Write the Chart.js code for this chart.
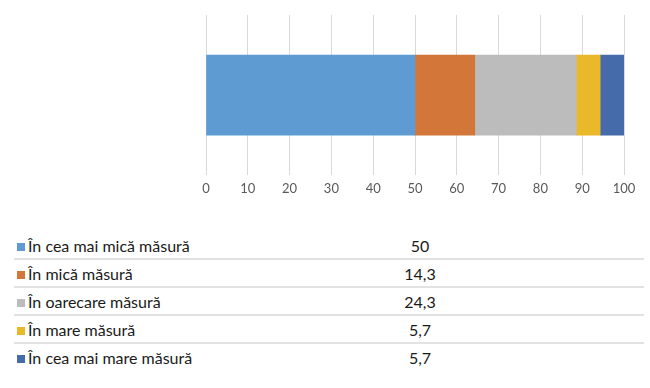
<!DOCTYPE html>
<html>
<head>
  <title>Stacked bar with data table</title>
  <script src="https://cdn.jsdelivr.net/npm/chart.js@4.4.0/dist/chart.umd.min.js"></script>
  <style>
    body { margin: 0; background: #fff; font-family: Lato, "Open Sans", sans-serif; }
    .wrap { position: relative; width: 650px; height: 388px; }
    .chart-box { position: absolute; left: 0; top: 0; width: 650px; height: 211px; }
    #legend-table { position: absolute; left: 14px; top: 232px; width: 630px; border-collapse: collapse; }
    #legend-table td { height: 26px; padding: 0; font-size: 16px; color: #1a1a1a; border-bottom: 2px solid #e2e2e2; }
    #legend-table tr:last-child td { border-bottom: none; }
    #legend-table td.lbl { width: 350px; white-space: nowrap; }
    #legend-table td.val { width: 112px; text-align: center; }
    .sq { display: inline-block; width: 8px; height: 8px; margin: 0 3px 0 3px; vertical-align: 1px; }
  </style>
</head>
<body>
  <div class="wrap">
    <div class="chart-box"><canvas id="chart"></canvas></div>
    <table id="legend-table"></table>
  </div>

  <script>
    // values
    var categories = ["În cea mai mică măsură", "În mică măsură", "În oarecare măsură", "În mare măsură", "În cea mai mare măsură"];
    var values = [50, 14.3, 24.3, 5.7, 5.7];
    var colors = ["#5e9bd2", "#d3763a", "#bcbcbc", "#e9b92a", "#456baa"];

    var datasets = categories.map(function(name, i) {
      return {
        label: name,
        data: [values[i]],
        backgroundColor: colors[i],
        borderWidth: 0,
        barThickness: 80
      };
    });

    var ctx = document.getElementById("chart").getContext("2d");
    var chart = new Chart(ctx, {
      type: "bar",
      data: { labels: [""], datasets: datasets },
      options: {
        indexAxis: "y",
        responsive: true,
        maintainAspectRatio: false,
        animation: false,
        layout: { padding: { left: 206, right: 26, top: 15, bottom: 8 } },
        plugins: { legend: { display: false }, tooltip: { enabled: false } },
        scales: {
          x: {
            stacked: true,
            min: 0,
            max: 100,
            ticks: { stepSize: 10, color: "#595959", padding: 6, font: { family: "Lato", size: 13 } },
            grid: { color: "#d9d9d9", lineWidth: 1, drawTicks: false },
            border: { display: false }
          },
          y: {
            stacked: true,
            display: false
          }
        }
      }
    });

    // data table under the chart
    var table = document.getElementById("legend-table");
    categories.forEach(function(name, i) {
      var tr = document.createElement("tr");
      var lbl = document.createElement("td");
      lbl.className = "lbl";
      lbl.innerHTML = '<span class="sq" style="background:' + colors[i] + '"></span>' + name;
      var val = document.createElement("td");
      val.className = "val";
      val.textContent = String(values[i]).replace(".", ",");
      var rest = document.createElement("td");
      tr.appendChild(lbl);
      tr.appendChild(val);
      tr.appendChild(rest);
      table.appendChild(tr);
    });
  </script>
</body>
</html>
